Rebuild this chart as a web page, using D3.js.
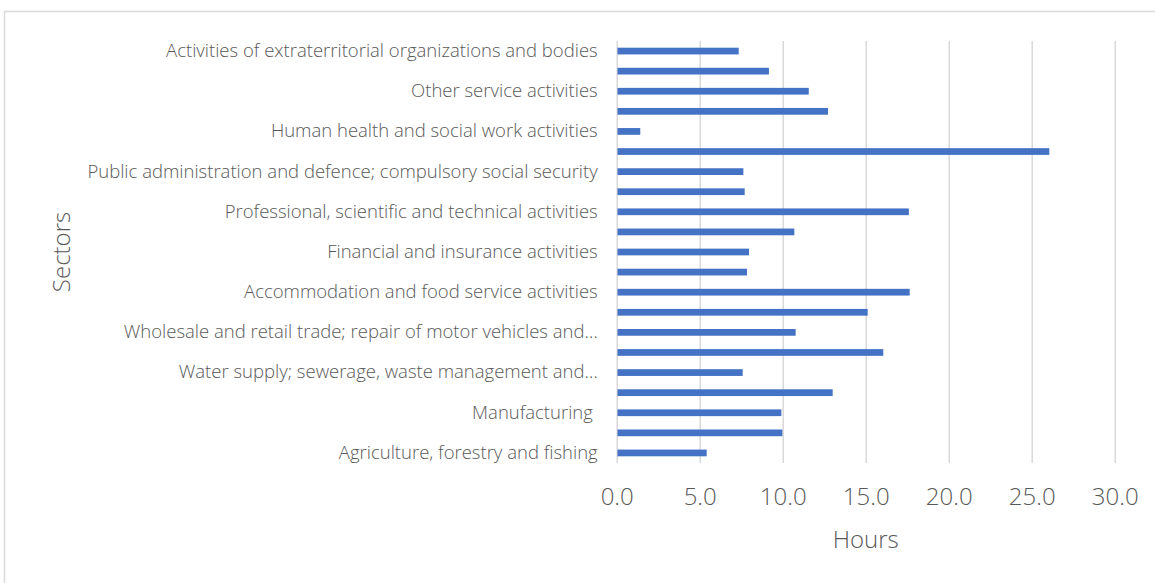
<!DOCTYPE html>
<html>
<head>
<meta charset="utf-8">
<script src="https://cdn.jsdelivr.net/npm/d3@7"></script>
<style>
  html, body { margin: 0; padding: 0; background: #fff; }
  svg { display: block; }
  text { font-family: "Open Sans", Lato, sans-serif; font-weight: 300; fill: #595959; }
</style>
</head>
<body>
<svg id="chart" width="1155" height="583"></svg>
<script>
// Sectors, bottom (A) to top (U); only every other label is shown, as in the original
const categories = [
  "Agriculture, forestry and fishing",
  "Mining and quarrying",
  "Manufacturing ",
  "Electricity, gas, steam and air conditioning supply",
  "Water supply; sewerage, waste management and…",
  "Construction",
  "Wholesale and retail trade; repair of motor vehicles and…",
  "Transportation and storage",
  "Accommodation and food service activities",
  "Information and communication",
  "Financial and insurance activities",
  "Real estate activities",
  "Professional, scientific and technical activities",
  "Administrative and support service activities",
  "Public administration and defence; compulsory social security",
  "Education",
  "Human health and social work activities",
  "Arts, entertainment and recreation",
  "Other service activities",
  "Activities of households as employers",
  "Activities of extraterritorial organizations and bodies"
];
const hours = [5.42, 9.98, 9.92, 13.01, 7.59, 16.06, 10.78, 15.12, 17.65, 7.85, 7.97,
               10.7, 17.6, 7.71, 7.63, 26.06, 1.42, 12.73, 11.57, 9.17, 7.35];
const xTicks = [0, 5, 10, 15, 20, 25, 30];
const xTitle = "Hours";
const yTitle = "Sectors";

const svg = d3.select("#chart");

// outer chart frame (extends past the visible area, as in the reference)
svg.append("rect")
  .attr("x", 4.5).attr("y", 11.5)
  .attr("width", 1170).attr("height", 600)
  .attr("fill", "none").attr("stroke", "#d9d9d9").attr("stroke-width", 1.5);

const plot = { left: 616.7, right: 1114.7, top: 41, bottom: 463 };

const x = d3.scaleLinear().domain([0, 30]).range([plot.left, plot.right]);
const y = d3.scaleBand().domain(categories)
  .range([plot.bottom, plot.top])
  .paddingInner(0.665).paddingOuter(0.333);

// vertical gridlines
const xAxis = d3.axisBottom(x).tickValues(xTicks)
  .tickSize(-(plot.bottom - plot.top)).tickPadding(25)
  .tickFormat(d3.format(".1f"));
const gx = svg.append("g")
  .attr("transform", `translate(0,${plot.bottom})`)
  .call(xAxis);
gx.select(".domain").remove();
gx.selectAll(".tick line").attr("stroke", "#d9d9d9").attr("stroke-width", 1.5);
gx.selectAll(".tick text")
  .attr("font-size", 24).attr("fill", "#595959")
  .style("font-family", "'Open Sans', Lato, sans-serif")
  .style("font-weight", 300);

// bars
svg.append("g").selectAll("rect")
  .data(categories)
  .join("rect")
  .attr("x", x(0) + 0.8)
  .attr("y", d => y(d))
  .attr("width", (d, i) => x(hours[i]) - x(0) - 0.8)
  .attr("height", y.bandwidth())
  .attr("fill", "#4472C4");

// category labels (every other one)
const yAxis = d3.axisLeft(y).tickSize(0).tickPadding(19)
  .tickFormat((d, i) => (i % 2 === 0 ? d : ""));
const gy = svg.append("g")
  .attr("transform", `translate(${plot.left},0)`)
  .call(yAxis);
gy.select(".domain").remove();
gy.selectAll(".tick text")
  .attr("font-size", 18.5).attr("fill", "#595959")
  .style("white-space", "pre")
  .style("font-family", "'Open Sans', Lato, sans-serif")
  .style("font-weight", 300);

// axis titles
svg.append("text")
  .attr("x", x(15)).attr("y", 548)
  .attr("text-anchor", "middle")
  .attr("font-size", 24)
  .text(xTitle);

svg.append("text")
  .attr("transform", `translate(70,252) rotate(-90)`)
  .attr("text-anchor", "middle")
  .attr("font-size", 24)
  .text(yTitle);
</script>
</body>
</html>
